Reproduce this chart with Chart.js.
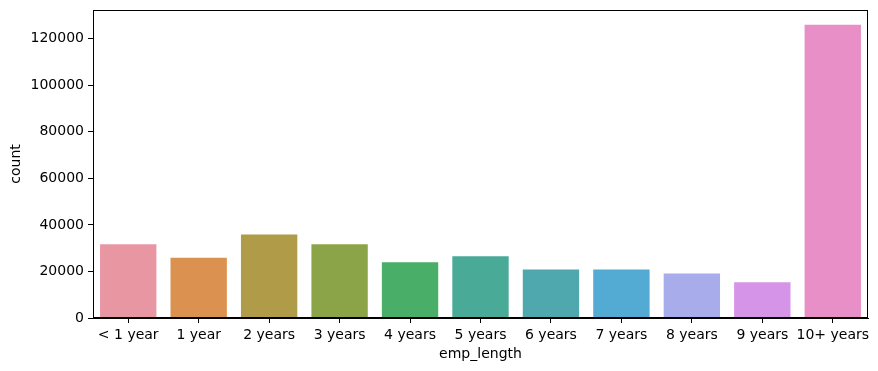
<!DOCTYPE html>
<html>
<head>
<meta charset="utf-8">
<script src="https://cdn.jsdelivr.net/npm/chart.js@4/dist/chart.umd.min.js"></script>
<style>
html,body{margin:0;padding:0;background:#fff;}
#wrap{width:878px;height:371px;position:relative;}
</style>
</head>
<body>
<div id="wrap"><canvas id="c" width="878" height="371"></canvas></div>
<script>
const categories = ["< 1 year","1 year","2 years","3 years","4 years","5 years","6 years","7 years","8 years","9 years","10+ years"];
const counts = [31725, 25882, 35827, 31665, 23952, 26495, 20841, 20819, 19168, 15314, 126041];
const barColors = ["#e996a3","#db9150","#b09b48","#8ca448","#48ae68","#4aaa98","#4ea8ae","#53aad2","#a9acea","#d694e8","#e88fc8"];
const yTicks = [0,20000,40000,60000,80000,100000,120000];
const yMax = 132343;

const FONT = "'DejaVu Sans', sans-serif";

const framePlugin = {
  id: 'frame',
  afterDatasetsDraw(chart) {
    const {ctx, chartArea: a} = chart;
    ctx.save();
    ctx.strokeStyle = '#000';
    ctx.lineWidth = 1;
    ctx.strokeRect(Math.round(a.left)+0.5, Math.round(a.top)+0.5, Math.round(a.right-a.left)-1, Math.round(a.bottom-a.top)-1);
    ctx.restore();
  }
};

new Chart(document.getElementById('c'), {
  type: 'bar',
  data: {
    labels: categories,
    datasets: [{
      data: counts,
      backgroundColor: barColors,
      borderWidth: 0,
      categoryPercentage: 1.0,
      barPercentage: 0.8
    }]
  },
  options: {
    responsive: false,
    animation: false,
    devicePixelRatio: 1,
    layout: { padding: { left: 0, right: 10, top: 10, bottom: 0 } },
    plugins: { legend: { display: false }, tooltip: { enabled: false } },
    scales: {
      x: {
        grid: { drawOnChartArea: false, offset: false, tickLength: 5, color: '#000' },
        border: { display: true, color: '#000' },
        ticks: { color: '#000', font: { family: FONT, size: 14 }, padding: 4, maxRotation: 0, autoSkip: false },
        title: { display: true, text: 'emp_length', color: '#000', font: { family: FONT, size: 14 }, padding: { top: 0, bottom: 8 } },
        afterFit(s) { s.height = 53; s.paddingLeft = 0; s.paddingRight = 0; }
      },
      y: {
        min: 0,
        max: yMax,
        grid: { drawOnChartArea: false, tickLength: 5, color: '#000' },
        border: { display: true, color: '#000' },
        ticks: { color: '#000', font: { family: FONT, size: 14 }, padding: 4, stepSize: 20000, callback: v => String(v) },
        afterBuildTicks(s) { s.ticks = yTicks.map(v => ({ value: v })); },
        title: { display: true, text: 'count', color: '#000', font: { family: FONT, size: 14 }, padding: { top: 8, bottom: 4 } },
        afterFit(s) { s.width = 93; s.paddingTop = 0; s.paddingBottom = 0; }
      }
    }
  },
  plugins: [framePlugin]
});
</script>
</body>
</html>
